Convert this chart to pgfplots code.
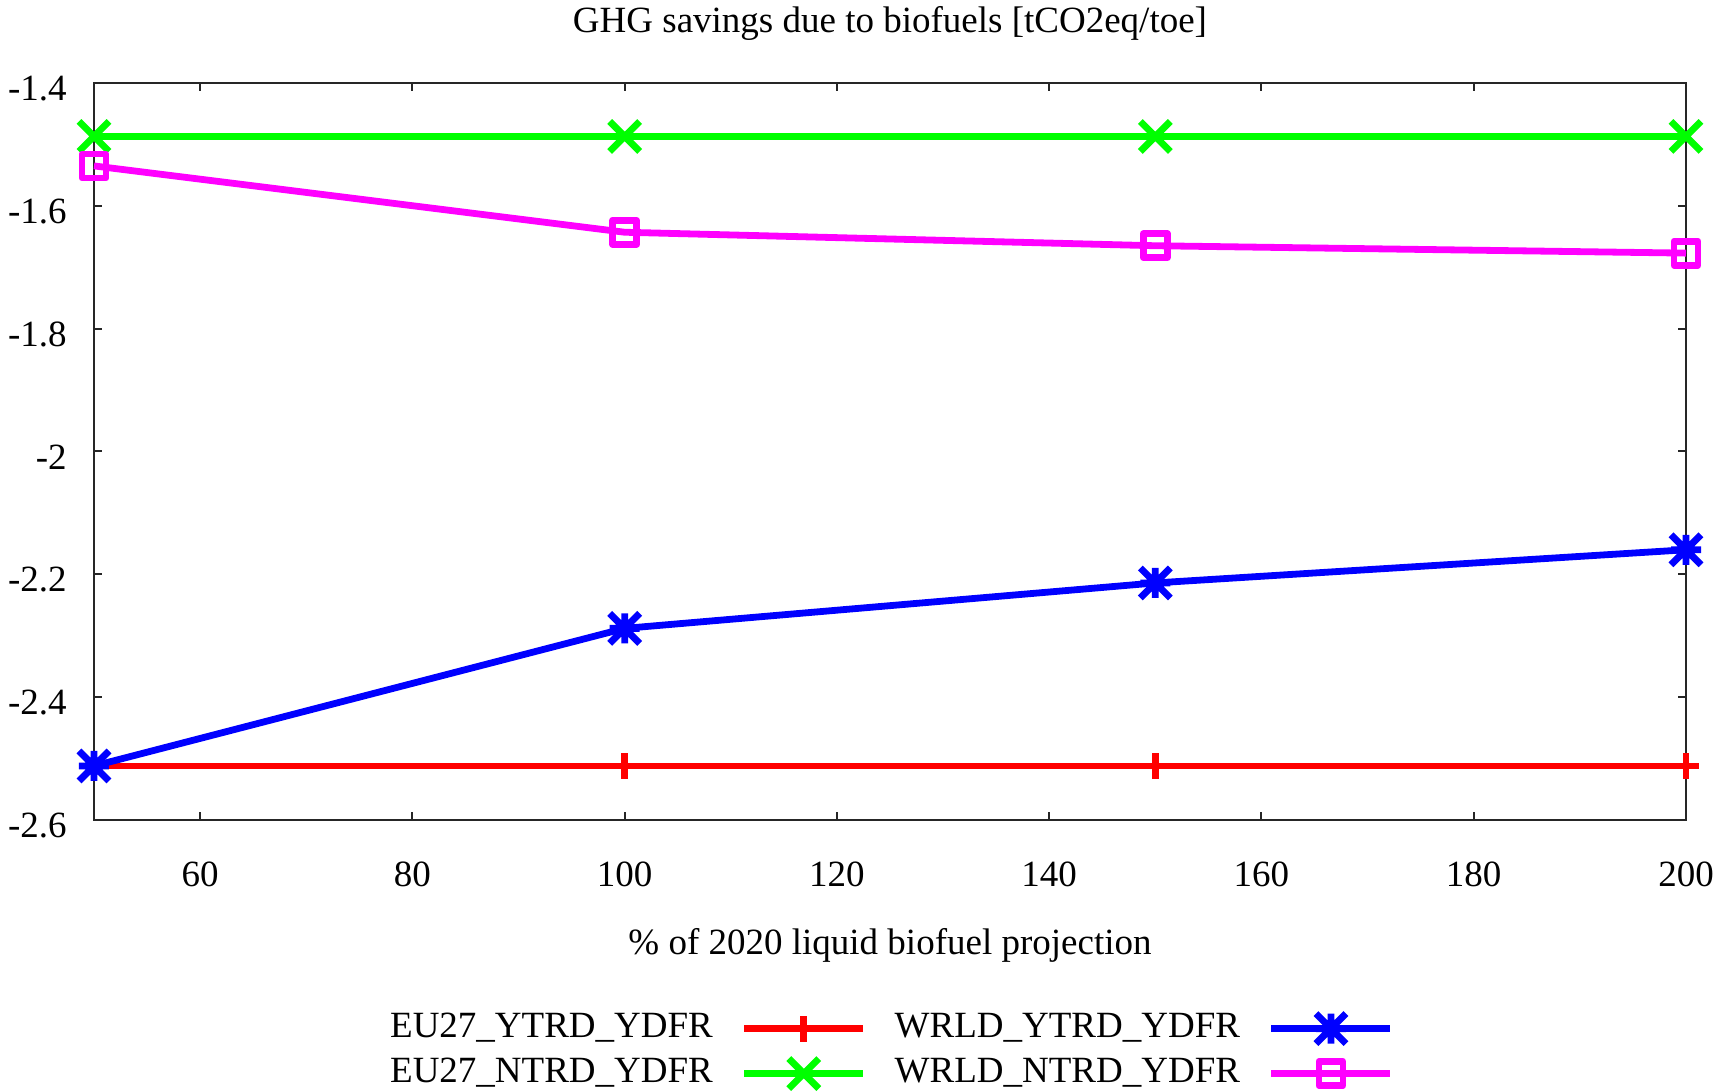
\documentclass[border=0pt]{standalone}
\usepackage{fontspec}
\setmainfont{Liberation Serif}
\usepackage{pgfplots}
\pgfplotsset{compat=1.18}

% gnuplot-style point symbols, all with half-width = mark size
\pgfdeclareplotmark{gpplus}{%
  \pgfpathmoveto{\pgfqpoint{-\pgfplotmarksize}{0pt}}\pgfpathlineto{\pgfqpoint{\pgfplotmarksize}{0pt}}%
  \pgfpathmoveto{\pgfqpoint{0pt}{-\pgfplotmarksize}}\pgfpathlineto{\pgfqpoint{0pt}{\pgfplotmarksize}}%
  \pgfusepathqstroke}
\pgfdeclareplotmark{gpcross}{%
  \pgfpathmoveto{\pgfqpoint{-\pgfplotmarksize}{-\pgfplotmarksize}}\pgfpathlineto{\pgfqpoint{\pgfplotmarksize}{\pgfplotmarksize}}%
  \pgfpathmoveto{\pgfqpoint{-\pgfplotmarksize}{\pgfplotmarksize}}\pgfpathlineto{\pgfqpoint{\pgfplotmarksize}{-\pgfplotmarksize}}%
  \pgfusepathqstroke}
\pgfdeclareplotmark{gpstar}{%
  \pgfpathmoveto{\pgfqpoint{-\pgfplotmarksize}{0pt}}\pgfpathlineto{\pgfqpoint{\pgfplotmarksize}{0pt}}%
  \pgfpathmoveto{\pgfqpoint{0pt}{-\pgfplotmarksize}}\pgfpathlineto{\pgfqpoint{0pt}{\pgfplotmarksize}}%
  \pgfpathmoveto{\pgfqpoint{-\pgfplotmarksize}{-\pgfplotmarksize}}\pgfpathlineto{\pgfqpoint{\pgfplotmarksize}{\pgfplotmarksize}}%
  \pgfpathmoveto{\pgfqpoint{-\pgfplotmarksize}{\pgfplotmarksize}}\pgfpathlineto{\pgfqpoint{\pgfplotmarksize}{-\pgfplotmarksize}}%
  \pgfusepathqstroke}
\pgfdeclareplotmark{gpbox}{%
  \pgfpathrectangle{\pgfqpoint{-\pgfplotmarksize}{-\pgfplotmarksize}}{\pgfqpoint{2\pgfplotmarksize}{2\pgfplotmarksize}}%
  \pgfusepathqstroke}

\definecolor{gpred}{RGB}{255,0,0}
\definecolor{gpgreen}{RGB}{0,255,0}
\definecolor{gpblue}{RGB}{0,0,255}
\definecolor{gpmagenta}{RGB}{255,0,255}

\begin{document}
\fontsize{18.5}{22}\selectfont
\begin{tikzpicture}
\useasboundingbox (0,0) rectangle (868pt,546pt);
\begin{axis}[
  at={(47pt,136pt)}, anchor=south west,
  scale only axis, width=796pt, height=368.5pt,
  xmin=50, xmax=200, ymin=-2.6, ymax=-1.4,
  clip=false,
  xtick={60,80,100,120,140,160,180,200},
  xticklabels={60,80,100,120,140,160,180,200},
  ytick={-2.6,-2.4,-2.2,-2,-1.8,-1.6,-1.4},
  yticklabels={-2.6,-2.4,-2.2,-2,-1.8,-1.6,-1.4},
  tick align=inside,
  major tick length=4pt,
  every tick/.style={black!85, line width=1pt},
  axis line style={black!85, line width=1.1pt},
  xticklabel style={anchor=base, inner sep=0pt, yshift=-33.5pt},
  yticklabel style={anchor=east, inner sep=0pt, xshift=-13.5pt, yshift=-2.75pt},
  title={GHG savings due to biofuels [tCO2eq/toe]},
  title style={at={(0.5,1)}, anchor=base, inner sep=0pt, yshift=19pt},
  xlabel={\% of 2020 liquid biofuel projection},
  xlabel style={at={(axis description cs:0.5,0)}, anchor=base, inner sep=0pt, yshift=-67pt},
  legend columns=2, transpose legend,
  legend plot pos=right, legend cell align=right,
  legend style={at={(axis description cs:0.5,0)}, anchor=south,
    xshift=1pt, yshift=-135.5pt, draw=none, fill=none, inner sep=0pt,
    column sep=14pt, row sep=5.5pt,
    nodes={inner sep=0pt, text height=13pt, text depth=4pt}},
  legend image code/.code={%
    \draw[mark repeat=2, mark phase=2, #1]
      plot coordinates {(0pt,0pt) (29.75pt,0pt) (59.5pt,0pt)};},
  every axis plot/.append style={line width=3.4pt, line join=round},
]
\addplot[gpred, mark=gpplus, mark size=6.5pt]
  coordinates {(50,-2.512) (100,-2.512) (150,-2.512) (200,-2.512)};
\addlegendentry{EU27\_YTRD\_YDFR}
\addplot[gpgreen, mark=gpcross, mark size=7.5pt]
  coordinates {(50,-1.487) (100,-1.487) (150,-1.487) (200,-1.487)};
\addlegendentry{EU27\_NTRD\_YDFR}
\addplot[gpblue, mark=gpstar, mark size=7.5pt]
  coordinates {(50,-2.512) (100,-2.288) (150,-2.214) (200,-2.160)};
\addlegendentry{WRLD\_YTRD\_YDFR}
\addplot[gpmagenta, mark=gpbox, mark size=6pt]
  coordinates {(50,-1.535) (100,-1.643) (150,-1.665) (200,-1.677)};
\addlegendentry{WRLD\_NTRD\_YDFR}
\end{axis}
\end{tikzpicture}
\end{document}
